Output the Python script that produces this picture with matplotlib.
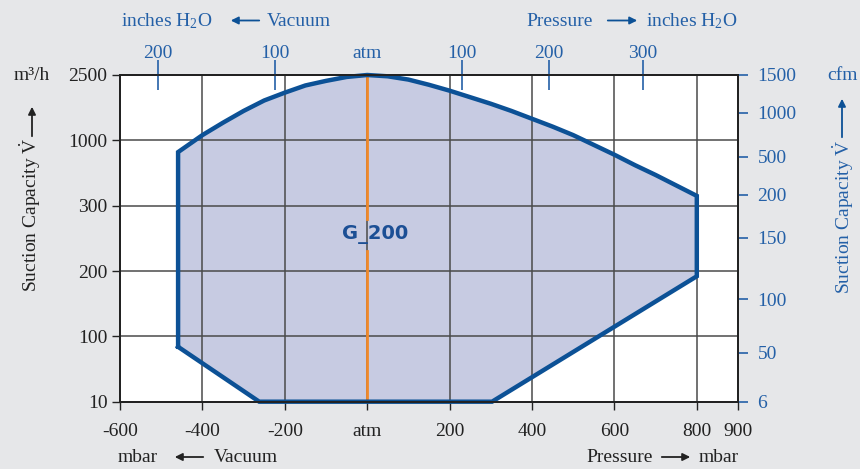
import numpy as np
import matplotlib
matplotlib.use('Agg')
import matplotlib.pyplot as plt

plt.rcParams['font.family'] = ['Liberation Serif', 'DejaVu Sans']
plt.rcParams['mathtext.fontset'] = 'custom'
plt.rcParams['mathtext.rm'] = 'Liberation Serif'
plt.rcParams['mathtext.it'] = 'Liberation Serif:italic'

# ---- data ----
# pressure axis (mbar), bottom
xticks = [-600, -400, -200, 0, 200, 400, 600, 800, 900]
xticklabels = ['-600', '-400', '-200', 'atm', '200', '400', '600', '800', '900']

# inches H2O axis, top (positions in mbar)
top_pos = [-508, -224, 0, 230, 441, 669]
top_labels = ['200', '100', 'atm', '100', '200', '300']

# suction capacity, left axis (m3/h) on equally spaced levels
left_levels = [0, 1, 2, 3, 4, 5]
left_labels = ['10', '100', '200', '300', '1000', '2500']

# suction capacity, right axis (cfm)
right_levels = [0, 0.75, 1.57, 2.51, 3.17, 3.75, 4.42, 5.0]
right_labels = ['6', '50', '100', '150', '200', '500', '1000', '1500']

# operating envelope of G_200 (mbar, level)
env_p = [-459, -459, -400, -350, -300, -250, -200, -150, -100, -50, 0,
         50, 100, 150, 200, 250, 300, 350, 400, 450, 500, 550, 600, 650, 700, 750, 800,
         800, 303, -262, -459]
env_v = [0.84, 3.82, 4.08, 4.27, 4.45, 4.61, 4.73, 4.84, 4.91, 4.97, 5.00,
         4.98, 4.93, 4.85, 4.76, 4.66, 4.56, 4.45, 4.33, 4.21, 4.08, 3.93, 3.78, 3.62, 3.47, 3.31, 3.15,
         1.92, 0.0, 0.0, 0.84]

# ---- styles ----
bg = '#e6e7e9'
blue = '#0c5196'
txtblue = '#2460a7'
fill = '#c7cbe2'
orange = '#f0892a'
gridc = '#4a4a4a'

W, H = 860, 469
fig = plt.figure(figsize=(W / 100, H / 100), dpi=100, facecolor=bg)
ax = fig.add_axes([120 / W, 1 - 401.7 / H, 618 / W, 326.7 / H])
ax.set_facecolor('white')
ax.set_xlim(-600, 900)
ax.set_ylim(0, 5)
ax.set_axisbelow('line')

ax.fill(env_p, env_v, facecolor=fill, edgecolor='none', zorder=1)
ax.plot(env_p, env_v, color=blue, lw=3.2, solid_joinstyle='miter', zorder=3, clip_on=False)

# atm line with label gap
ax.plot([0, 0], [5, 2.8], color=orange, lw=2, zorder=2.5)
ax.plot([0, 0], [2.3, 0], color=orange, lw=2, zorder=2.5)
ax.text(19, 2.56, 'G_200', color='#1c4f95', fontsize=14, fontweight='bold',
        family='DejaVu Sans', ha='center', va='center', zorder=4)

ax.set_xticks(xticks)
ax.set_xticklabels(xticklabels)
ax.set_yticks(left_levels)
ax.set_yticklabels(left_labels)
ax.tick_params(axis='both', direction='out', length=6, width=1, labelsize=14, colors='#222222')
ax.tick_params(axis='x', pad=9)
ax.tick_params(axis='y', pad=3)
ax.grid(True, color=gridc, lw=1.1)
for s in ax.spines.values():
    s.set_color('#222222')
    s.set_linewidth(1.2)

# right axis (cfm)
axr = ax.twinx()
axr.set_ylim(0, 5)
axr.set_yticks(right_levels)
axr.set_yticklabels(right_labels)
axr.tick_params(axis='y', direction='out', length=7, width=1.2, labelsize=14,
                colors=txtblue, pad=7)

# top axis (inches H2O)
axt = ax.twiny()
axt.set_xlim(-600, 900)
axt.set_xticks(top_pos)
axt.set_xticklabels(top_labels)
axt.tick_params(axis='x', direction='inout', length=22, width=1.2, labelsize=14,
                colors=txtblue, pad=-2)
axt.xaxis.get_major_ticks()[2].tick2line.set_visible(False)
for a in (axr, axt):
    for s in a.spines.values():
        s.set_color('#222222')
        s.set_linewidth(1.2)


def fpos(x, y):
    return x / W, 1 - y / H


def arrow(x0, y0, x1, y1, color):
    fig.add_artist(matplotlib.patches.FancyArrowPatch(
        fpos(x0, y0), fpos(x1, y1), transform=fig.transFigure,
        arrowstyle='-|>', mutation_scale=11, lw=1.3, color=color))


# top captions
fig.text(*fpos(121, 26), 'inches H$_2$O', color=txtblue, fontsize=14, va='baseline')
arrow(262, 20.5, 228, 20.5, blue)
fig.text(*fpos(267, 26), 'Vacuum', color=txtblue, fontsize=14, va='baseline')
fig.text(*fpos(526, 26), 'Pressure', color=txtblue, fontsize=14, va='baseline')
arrow(605, 20.5, 640, 20.5, blue)
fig.text(*fpos(646, 26), 'inches H$_2$O', color=txtblue, fontsize=14, va='baseline')

# bottom captions
fig.text(*fpos(118, 462), 'mbar', color='#222222', fontsize=14, va='baseline')
arrow(206, 457, 172, 457, '#222222')
fig.text(*fpos(214, 462), 'Vacuum', color='#222222', fontsize=14, va='baseline')
fig.text(*fpos(586, 462), 'Pressure', color='#222222', fontsize=14, va='baseline')
arrow(659, 457, 693, 457, '#222222')
fig.text(*fpos(699, 462), 'mbar', color='#222222', fontsize=14, va='baseline')

# side captions
fig.text(*fpos(32, 75), 'm³/h', color='#222222', fontsize=14, ha='center', va='center')
fig.text(*fpos(30, 215), r'Suction Capacity $\dot{\mathrm{V}}$', color='#222222', fontsize=14,
         rotation=90, ha='center', va='center')
arrow(32, 139, 32, 104, '#222222')
fig.text(*fpos(842, 75), 'cfm', color=txtblue, fontsize=14, ha='center', va='center')
fig.text(*fpos(843, 217), r'Suction Capacity $\dot{\mathrm{V}}$', color=txtblue, fontsize=14,
         rotation=90, ha='center', va='center')
arrow(842, 140, 842, 96, blue)

fig.savefig('out.png', dpi=100, facecolor=bg)
